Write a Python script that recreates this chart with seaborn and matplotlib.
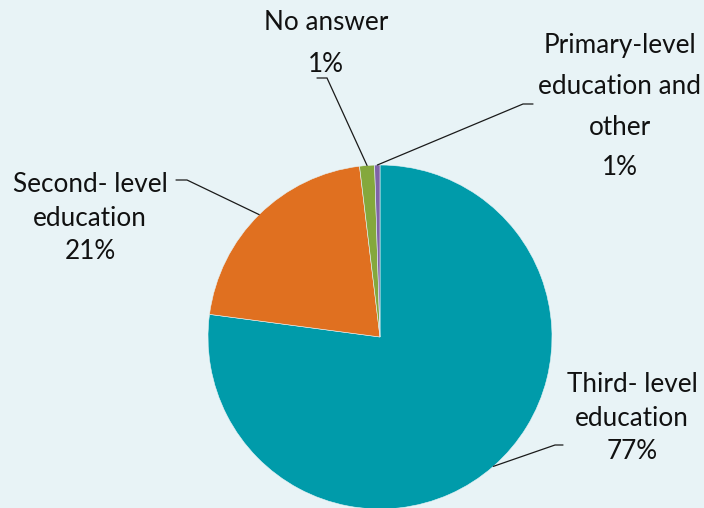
import numpy as np
import matplotlib
matplotlib.use("Agg")
import matplotlib.pyplot as plt
import seaborn as sns

# Highest level of education attained by respondents
categories = ["Third- level\neducation", "Second- level\neducation", "No answer",
              "Primary-level\neducation and\nother"]
shares = [77.1, 21.0, 1.4, 0.5]
pct_labels = ["77%", "21%", "1%", "1%"]
colors = ["#009BAA", "#E07020", "#84A83C", "#7F63A8"]

sns.set_theme(style="white")
plt.rcParams["font.family"] = ["Lato", "DejaVu Sans"]

BG = "#E8F3F6"
W, H = 704, 508
fig = plt.figure(figsize=(W / 100, H / 100), dpi=100, facecolor=BG)

# pie centre and radius in pixels
cx, cy, R = 380, 337, 172
ax = fig.add_axes([(cx - R) / W, (H - cy - R) / H, 2 * R / W, 2 * R / H])
ax.set_facecolor(BG)

wedges, _ = ax.pie(shares, colors=colors, startangle=90, counterclock=False,
                   radius=1.0, wedgeprops=dict(edgecolor="#E8F3F6", linewidth=0.4))
ax.set_xlim(-1, 1)
ax.set_ylim(-1, 1)
ax.set_aspect("equal")
ax.axis("off")


def px(x, y):
    """pixel position -> data coordinates of the pie axes"""
    return (x - cx) / R, (cy - y) / R


# leader elbow, line end, text centre x and first baseline / line step (pixels)
layout = [
    dict(elbow=(555, 445), end=(563, 445), tx=632, base=392, step=33.6),
    dict(elbow=(187, 180), end=(176, 180), tx=90, base=192, step=33.6),
    dict(elbow=(327, 78), end=(317, 78), tx=326, base=30, step=41.5),
    dict(elbow=(523, 104), end=(533, 104), tx=620, base=53, step=40.8),
]

for w, cat, pct, lay in zip(wedges, categories, pct_labels, layout):
    mid = np.deg2rad((w.theta1 + w.theta2) / 2)
    ax_, ay_ = np.cos(mid), np.sin(mid)
    ex, ey = px(*lay["elbow"])
    nx, ny = px(*lay["end"])
    ax.plot([ax_, ex, nx], [ay_, ey, ny], color="#1a1a1a", lw=0.9,
            clip_on=False, solid_joinstyle="miter")
    lines = cat.split("\n") + [pct]
    for i, line in enumerate(lines):
        tx, ty = px(lay["tx"], lay["base"] + i * lay["step"])
        ax.text(tx, ty, line, ha="center", va="baseline", fontsize=18.8,
                color="#111111", clip_on=False)

fig.savefig("out.png", dpi=100, facecolor=BG)
